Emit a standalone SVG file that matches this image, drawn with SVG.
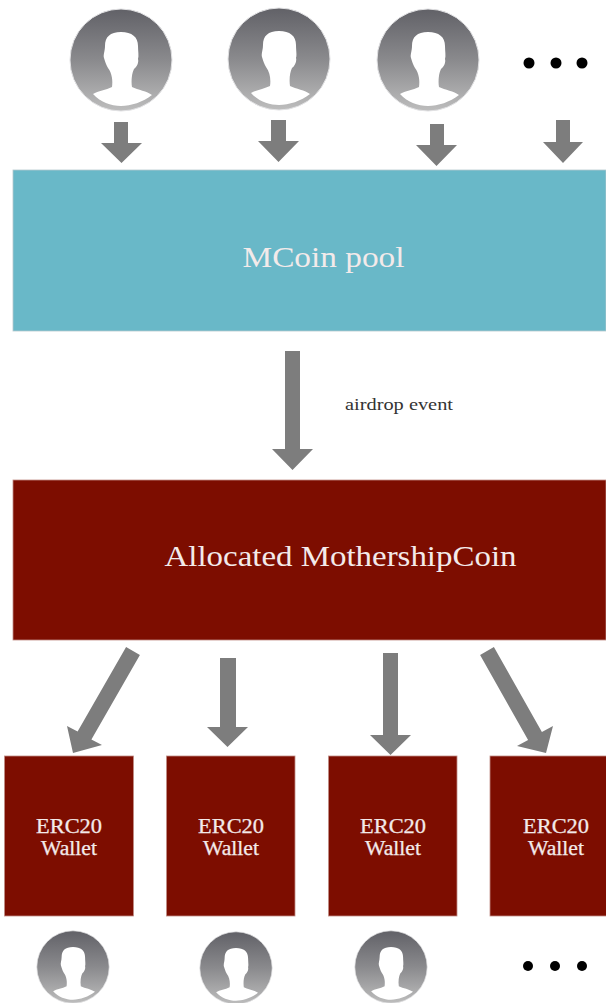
<svg xmlns="http://www.w3.org/2000/svg" width="606" height="1003" viewBox="0 0 606 1003">
<style>
text{font-family:"Liberation Serif","Times New Roman",serif;text-anchor:middle;fill:#f3eaea}
.red{fill:#7d0d00;stroke:#c08d86;stroke-width:.8}
.arrow{fill:#7d7d7d}
.dot{fill:#000}
.w{font-size:20px;stroke:#f3eaea;stroke-width:.25}
</style>
<defs>
<linearGradient id="av" x1="0" y1="0" x2="0" y2="1"><stop offset="0" stop-color="#616167"/><stop offset=".5" stop-color="#8a8a8d"/><stop offset="1" stop-color="#bdbdbd"/></linearGradient>
<g id="avatar">
<circle r="51" fill="url(#av)" stroke="#e2e2e4" stroke-width="1"/>
<path fill="#fff" d="M0,-28 C11,-28 17,-23 17,-14 C17,-9 18,-4 17,-1 C18,2 16,7 13,9 C11,13 10,20 11,27 C17,30 26,31 31,35 C22,42 10,46 0,46 C-10,46 -21,42 -28,34 C-23,31 -15,30 -9,27 C-8,21 -9,13 -13,8 C-15,5 -16,1 -17,-2 C-18,-5 -16,-9 -16,-14 C-16,-23 -11,-28 0,-28 Z"/>
</g>
</defs>
<rect width="606" height="1003" fill="#fff"/>
<g id="user-top-1"><use href="#avatar" transform="translate(121 60)"/></g>
<g id="user-top-2"><use href="#avatar" transform="translate(279 59)"/></g>
<g id="user-top-3"><use href="#avatar" transform="translate(428 60)"/></g>
<g id="more-top"><circle class="dot" cx="529" cy="63" r="5.5"/><circle class="dot" cx="556" cy="63" r="5.5"/><circle class="dot" cx="582" cy="63" r="5.5"/></g>
<g id="pool"><rect x="13" y="170" width="593" height="161" fill="#69b8c8" stroke="#b5c9cd" stroke-width=".8"/><text x="323.5" y="267" font-size="30" textLength="162" lengthAdjust="spacingAndGlyphs">MCoin pool</text></g>
<g id="allocated"><rect class="red" x="13" y="480" width="593" height="160"/><text x="340.5" y="566" font-size="30" textLength="352" lengthAdjust="spacingAndGlyphs">Allocated MothershipCoin</text></g>
<g id="airdrop-label"><text x="399" y="410" font-size="16" style="fill:#333" textLength="108" lengthAdjust="spacingAndGlyphs">airdrop event</text></g>
<g id="wallet-1"><rect class="red" x="4.5" y="756" width="129" height="160"/><text class="w" x="69" y="833" textLength="66" lengthAdjust="spacingAndGlyphs">ERC20</text><text class="w" x="69" y="855" textLength="56" lengthAdjust="spacingAndGlyphs">Wallet</text></g>
<g id="wallet-2"><rect class="red" x="166.5" y="756" width="128.500" height="160"/><text class="w" x="231" y="833" textLength="66" lengthAdjust="spacingAndGlyphs">ERC20</text><text class="w" x="231" y="855" textLength="56" lengthAdjust="spacingAndGlyphs">Wallet</text></g>
<g id="wallet-3"><rect class="red" x="328.500" y="756" width="128.500" height="160"/><text class="w" x="393" y="833" textLength="66" lengthAdjust="spacingAndGlyphs">ERC20</text><text class="w" x="393" y="855" textLength="56" lengthAdjust="spacingAndGlyphs">Wallet</text></g>
<g id="wallet-4"><rect class="red" x="490" y="756" width="117" height="160"/><text class="w" x="556" y="833" textLength="66" lengthAdjust="spacingAndGlyphs">ERC20</text><text class="w" x="556" y="855" textLength="56" lengthAdjust="spacingAndGlyphs">Wallet</text></g>
<g id="user-bottom-1"><use href="#avatar" transform="translate(73 967) scale(.71)"/></g>
<g id="user-bottom-2"><use href="#avatar" transform="translate(236 968) scale(.71)"/></g>
<g id="user-bottom-3"><use href="#avatar" transform="translate(391 967) scale(.71)"/></g>
<g id="more-bottom"><circle class="dot" cx="528" cy="966" r="5"/><circle class="dot" cx="555" cy="966" r="5"/><circle class="dot" cx="582" cy="966" r="5"/></g>
<g id="connectors">
<polygon class="arrow" points="114,122 128,122 128,143 142,143 121.500,163 101,143 114,143"/>
<polygon class="arrow" points="271,120 286,120 286,141 299,141 278.500,162 258,141 271,141"/>
<polygon class="arrow" points="430,124 444,124 444,145 457,145 436.500,166 416,145 430,145"/>
<polygon class="arrow" points="556,120 570,120 570,142 583,142 563,163 543,142 556,142"/>
<polygon class="arrow" points="285,351 300,351 300,449 313,449 292.500,470 272,449 285,449"/>
<polygon class="arrow" points="126.100,647 139.900,655 91.400,739.500 102,745 73,753 67,726 77.600,731.500"/>
<polygon class="arrow" points="220,658 236,658 236,727 248,727 227.500,747 207,727 220,727"/>
<polygon class="arrow" points="383,653 398,653 398,735 411,735 390.500,755 370,735 383,735"/>
<polygon class="arrow" points="493.900,647 541.900,732 553,726 546,753 517,746 528.100,740 480.100,655"/>
</g>
</svg>
